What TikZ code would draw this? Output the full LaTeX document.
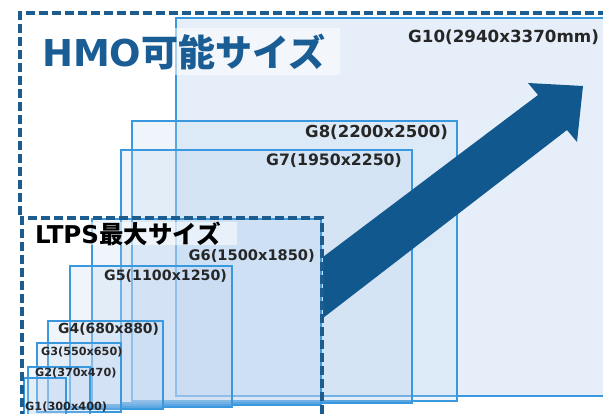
\documentclass[tikz,border=0pt]{standalone}
\usepackage{fontspec}
\setmainfont{DejaVu Sans}
\newfontfamily\jp{Noto Sans CJK JP}
\definecolor{lineblue}{RGB}{58,152,222}
\definecolor{boxfill}{RGB}{190,214,240}
\definecolor{dashblue}{RGB}{28,92,142}
\definecolor{arrowblue}{RGB}{17,88,142}
\definecolor{hmoblue}{RGB}{26,92,148}
\definecolor{labtext}{RGB}{38,38,38}
\begin{document}
\begin{tikzpicture}[x=1pt,y=-1pt,
  gbox/.style={draw=lineblue, line width=2.1pt, fill=boxfill, fill opacity=0.24},
  glab/.style={font=\bfseries\fontsize{#1}{#1}\selectfont, text=labtext, inner sep=0pt},
  dashline/.style={draw=dashblue, line width=3.2pt, dash pattern=on 9pt off 4pt},
  labbg/.style={fill=white, fill opacity=0.55, draw=none}]
\useasboundingbox (0,0) rectangle (603,414);
\clip (0,0) rectangle (603,414);
\fill[white] (0,0) rectangle (603,414);
% boxes
\draw[gbox, fill opacity=0.38] (176,18) rectangle (612,396);
\fill[labbg] (40,28) rectangle (340,75);
\draw[gbox] (132,121) rectangle (457,401);
\draw[gbox] (121,150) rectangle (412,403);
\draw[gbox] (92,219) rectangle (321,405);
\draw[gbox] (70,266) rectangle (232,407);
\draw[gbox] (48,321) rectangle (163,409);
\draw[gbox] (37,343) rectangle (121,412);
\draw[gbox] (28,367) rectangle (90,418);
\draw[gbox] (24,378) rectangle (66,420);
\fill[labbg] (30,222) rectangle (237,245);
% arrow
\fill[arrowblue] (323,257) -- (538,95) -- (528,83) -- (583,86) -- (577,142) -- (567,130) -- (323,318) -- cycle;
% dashed frames
\draw[dashline] (20,215) -- (20,13) -- (612,13);
\draw[dashline] (22,420) -- (22,218) -- (322,218) -- (322,420);
% titles
\node[anchor=west, inner sep=0pt, text=hmoblue, font=\bfseries\fontsize{37}{37}\selectfont] (hmo) at (42,52) {HMO{\jp\bfseries 可能サイズ}};
\node[anchor=west, inner sep=0pt, text=black, font=\bfseries\fontsize{24.5}{24.5}\selectfont] (ltps) at (35,234) {LTPS{\jp\bfseries 最大サイズ}};
% labels
\node[glab=16.7, anchor=west] (g10) at (408,37) {G10(2940x3370mm)};
\node[glab=16.5, anchor=east] (g8) at (448,132) {G8(2200x2500)};
\node[glab=15.7, anchor=east] (g7) at (402,161) {G7(1950x2250)};
\node[glab=14.6, anchor=east] (g6) at (315,256) {G6(1500x1850)};
\node[glab=14.2, anchor=west] (g5) at (104,276) {G5(1100x1250)};
\node[glab=13.9, anchor=west] (g4) at (58,329) {G4(680x880)};
\node[glab=11.2, anchor=west] (g3) at (41,352) {G3(550x650)};
\node[glab=11.2, anchor=west] (g2) at (35,373) {G2(370x470)};
\node[glab=11.3, anchor=west] (g1) at (25,407) {G1(300x400)};
\end{tikzpicture}
\end{document}
